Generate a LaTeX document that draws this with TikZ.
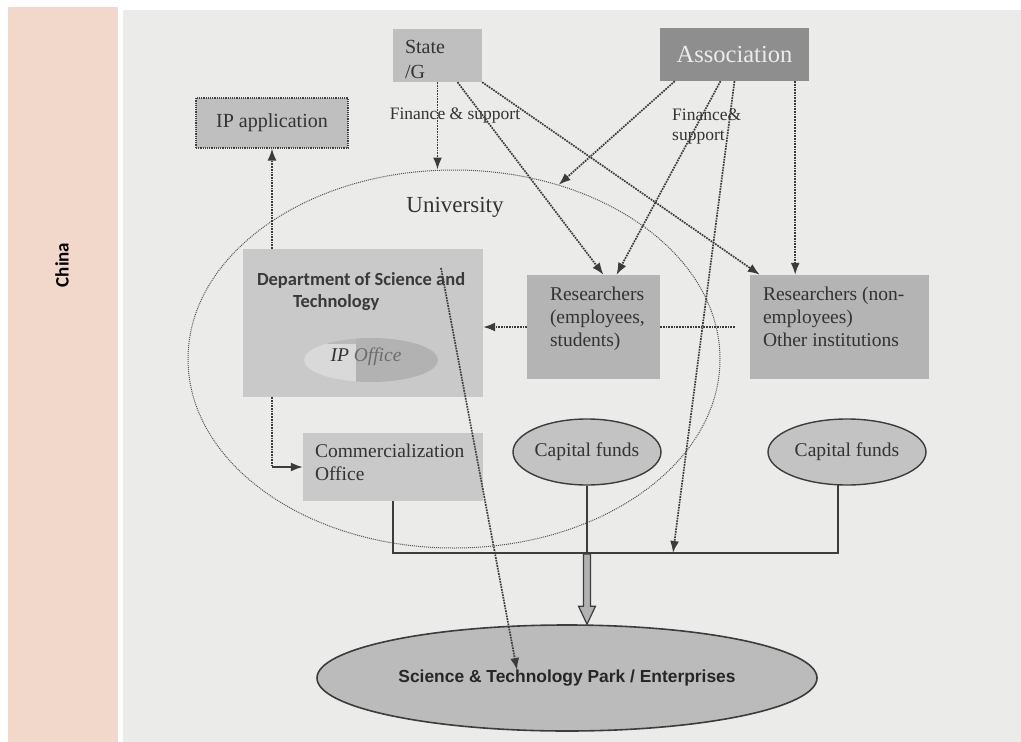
\documentclass[tikz,border=0pt]{standalone}
\usepackage{fontspec}
\setmainfont{Liberation Serif}
\newfontfamily\arialfont{Liberation Sans}
\newfontfamily\calfont{Carlito}
\usetikzlibrary{positioning,calc,shapes.geometric,arrows.meta}
\definecolor{panelpink}{HTML}{F2D8CA}
\definecolor{panelgray}{HTML}{EBEBEA}
\definecolor{inkgray}{HTML}{333333}
\definecolor{boxlight}{HTML}{C9C9C9}
\definecolor{boxmid}{HTML}{B4B4B4}
\definecolor{boxdark}{HTML}{8E8E8E}
\definecolor{linegray}{HTML}{3C3C3C}
\newcommand{\txtsize}[1]{\fontsize{#1}{23}\selectfont}

\begin{document}
\begin{tikzpicture}[x=1pt,y=-1pt,
    box/.style={draw=none, fill=boxlight, inner sep=0pt},
    txt/.style={inner sep=0pt, text=inkgray, align=left, font=\txtsize{19.5}},
    fund/.style={ellipse, draw=linegray, line width=1.4pt, fill=boxmid!80!white, inner sep=0pt,
        minimum width=148pt, minimum height=66pt, text=inkgray, font=\txtsize{19.5}},
    dotline/.style={linegray, line width=1.7pt, densely dotted},
    dotarrow/.style={dotline, -{Latex[length=12pt,width=9pt]}},
    link/.style={linegray, line width=1.6pt}]
    \useasboundingbox (0,0) rectangle (1021,742);
    % panels
    \fill[panelpink] (8,7) rectangle (118,742);
    \fill[panelgray] (123,10) rectangle (1021,742);
    \node[rotate=90, font=\calfont\bfseries\fontsize{19}{22}\selectfont] (country) at (62,265) {China};

    % university
    \node[ellipse, draw=gray!65!black, densely dotted, line width=1pt, minimum width=532pt,
        minimum height=378pt, inner sep=0pt] (uni) at (454,359) {};
    \node[txt, font=\txtsize{23}] (unilabel) at (455,207) {University};

    % top row
    \node[box, fill=boxmid!85!white, minimum width=89pt, minimum height=53pt] (state) at (437.5,55.5) {};
    \node[txt, font=\fontsize{20}{25}\selectfont, below right=11pt and 12pt of state.north west] (statetxt) {State\\/G};
    \node[box, fill=boxdark, minimum width=149pt, minimum height=53pt, text=gray!15,
        font=\txtsize{24.5}] (assoc) at (734.5,54.5) {Association};
    \node[box, fill=boxmid!85!white, draw=gray!50!black, densely dotted, line width=1.2pt,
        minimum width=152pt, minimum height=50pt, text=inkgray, font=\txtsize{20}] (ipapp) at (272,123) {IP application};
    \node[txt, font=\txtsize{17.5}] (finstate) at (455,116) {Finance \& support};
    \node[txt, font=\fontsize{17.5}{20}\selectfont, anchor=west] (finassoc) at (672,127) {Finance\&\\support};

    % department
    \node[box, minimum width=240pt, minimum height=148pt] (dept) at (363,323) {};
    \node[txt, text=gray!45!black, font=\calfont\bfseries\fontsize{18.5}{22}\selectfont,
        below right=24pt and 14pt of dept.north west] (depttxt) {Department of Science and\\\hspace*{36pt}Technology};
    \begin{scope}
        \clip (371,360) ellipse [x radius=67pt, y radius=22pt];
        \fill[gray!30] (300,335) rectangle (356,385);
        \fill[gray!60] (356,335) rectangle (440,385);
        \fill[gray!55] (327,335) rectangle (356,344);
    \end{scope}
    \node[inner sep=0pt, font=\itshape\fontsize{19.5}{22}\selectfont] (ipoffice) at (366,357)
        {\textcolor{inkgray}{IP} \textcolor{gray!85!black}{Office}};

    % researchers
    \node[box, fill=boxmid, minimum width=179pt, minimum height=104pt] (rnon) at (839.5,327) {};
    \draw[dotarrow] ([xshift=-15pt]rnon.west) -- (rnon.west -| dept.east);
    \node[box, fill=boxmid, minimum width=133pt, minimum height=104pt] (remp) at (593.5,327) {};
    \node[txt, below right=12pt and 23pt of remp.north west] (remptxt) {Researchers\\(employees,\\students)};
    \node[txt, below right=12pt and 13pt of rnon.north west] (rnontxt) {Researchers (non-\\employees)\\Other institutions};

    % commercialization and funds
    \node[box, minimum width=180pt, minimum height=68pt] (comm) at (393,467) {};
    \node[txt, below right=11pt and 12pt of comm.north west] (commtxt) {Commercialization\\Office};
    \node[fund] (capone) at (587,452) {Capital funds};
    \node[fund, minimum width=158pt] (captwo) at (847,452) {Capital funds};

    % park
    \node[ellipse, draw=linegray, line width=1.6pt, fill=boxmid!90!white, minimum width=500pt,
        minimum height=106pt, inner sep=0pt, text=black!85,
        font=\arialfont\bfseries\fontsize{17.4}{20}\selectfont] (park) at (567,678) {Science \& Technology Park / Enterprises};

    \coordinate (hub) at (587,553);
    \coordinate (fundin) at (673,553);
    \coordinate (ipstart) at (441,268);
    \coordinate (ipend) at (517,670);
    \coordinate (bend) at (ipapp.south |- comm.west);
    \coordinate (assocr) at ([xshift=-14pt]assoc.south east);
    \coordinate (tip) at (hub |- park.north);

    % joining lines
    \draw[link] (comm.south) |- (captwo.255 |- hub) -- (captwo.255);
    \draw[link] (capone.south) -- (hub);
    \filldraw[fill=gray!60, draw=linegray, line width=1.2pt] ($(hub)+(-3.5,1)$) -- ($(tip)+(-3.5,-18)$)
        -- ($(tip)+(-8.5,-18)$) -- (tip) -- ($(tip)+(8.5,-18)$) -- ($(tip)+(3.5,-18)$) -- ($(hub)+(3.5,1)$) -- cycle;

    % finance arrows
    \draw[dotarrow] (state.south) -- (state.south |- uni.north);
    \draw[dotarrow] ([xshift=20pt]state.south) -- ([xshift=10pt]remp.north);
    \draw[dotarrow] (state.south east) -- ([xshift=10pt]rnon.north west);
    \draw[dotarrow] ([xshift=15pt]assoc.south west) -- (uni.59);
    \draw[dotarrow] ([xshift=-14pt]assoc.south) -- ([xshift=23pt]remp.north);
    \draw[dotarrow] (assoc.south) -- (fundin);
    \draw[dotarrow] (assocr) -- (assocr |- rnon.north);

    % department arrows
    \draw[dotarrow] (ipapp.south |- dept.north) -- (ipapp.south);
    \draw[dotline] (ipapp.south |- dept.south) -- (bend);
    \draw[link, -{Latex[length=12pt,width=9pt]}] (bend) -- (comm.west);
    \draw[dotarrow] (ipstart) -- (ipend);
\end{tikzpicture}
\end{document}
